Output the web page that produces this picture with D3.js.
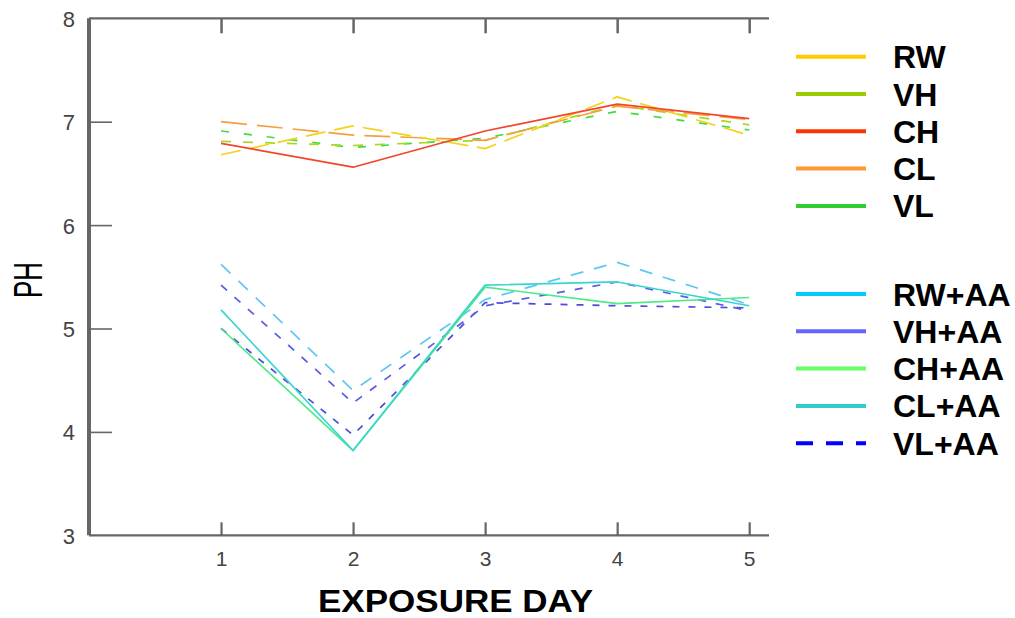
<!DOCTYPE html>
<html>
<head>
<meta charset="utf-8">
<script src="https://cdn.jsdelivr.net/npm/d3@7"></script>
<style>
  html, body { margin: 0; padding: 0; background: #fff; }
  svg { display: block; font-family: "Liberation Sans", Arial, sans-serif; }
</style>
</head>
<body>
<svg id="chart" width="1015" height="618"></svg>
<script>
// Exposure days and axis ticks
const days = [1, 2, 3, 4, 5];
const yTicks = [3, 4, 5, 6, 7, 8];

// pH readings per treatment
const seriesNames = ["RW", "VH", "CH", "CL", "VL", "RW+AA", "VH+AA", "CH+AA", "CL+AA", "VL+AA"];
const rwValues   = [6.68, 6.96, 6.74, 7.24, 6.87];
const vhValues   = [6.81, 6.77, 6.82, 7.16, 6.97];
const chValues   = [6.79, 6.56, 6.91, 7.17, 7.03];
const clValues   = [7.00, 6.87, 6.82, 7.15, 7.02];
const vlValues   = [6.91, 6.75, 6.84, 7.10, 6.92];
const rwAaValues = [5.62, 4.40, 5.28, 5.64, 5.23];
const vhAaValues = [5.42, 4.28, 5.22, 5.45, 5.17];
const chAaValues = [5.00, 3.82, 5.40, 5.24, 5.30];
const clAaValues = [5.18, 3.82, 5.42, 5.45, 5.22];
const vlAaValues = [5.00, 3.97, 5.25, 5.22, 5.20];

const valuesByName = {
  "RW": rwValues, "VH": vhValues, "CH": chValues, "CL": clValues, "VL": vlValues,
  "RW+AA": rwAaValues, "VH+AA": vhAaValues, "CH+AA": chAaValues, "CL+AA": clAaValues, "VL+AA": vlAaValues
};

// Line appearance: legend colour, plotted colour and dash pattern
const styles = {
  "RW":    { legend: "#FFCC00", line: "#F2D21A", dash: "20,9" },
  "VH":    { legend: "#99CC00", line: "#A8D820", dash: "10,12" },
  "CH":    { legend: "#FF3300", line: "#F2462A", dash: null },
  "CL":    { legend: "#FF9933", line: "#F5A040", dash: "26,10" },
  "VL":    { legend: "#33CC33", line: "#3DDD3D", dash: "8,15" },
  "RW+AA": { legend: "#00CCFF", line: "#5CC8F2", dash: "13,11" },
  "VH+AA": { legend: "#6666FF", line: "#5A5AE6", dash: "8,10" },
  "CH+AA": { legend: "#66FF66", line: "#4EEA86", dash: null },
  "CL+AA": { legend: "#33CCCC", line: "#3CD4D0", dash: null },
  "VL+AA": { legend: "#0000FF", line: "#4A4ADD", dash: "7,9" }
};
const drawOrder = ["VL", "VH", "CL", "RW", "CH", "RW+AA", "VL+AA", "VH+AA", "CH+AA", "CL+AA"];

const svg = d3.select("#chart");
const plotLeft = 89, plotRight = 769, plotTop = 18.3, plotBottom = 535.3;

const x = d3.scaleLinear().domain([0, 5.15]).range([plotLeft, plotRight]);
const y = d3.scaleLinear().domain([3, 8]).range([plotBottom, plotTop]);

const axisColor = "#666";
const labelColor = "#444";

// Top border with downward ticks
const topAxis = svg.append("g").attr("transform", `translate(0,${plotTop})`)
  .call(d3.axisBottom(x).tickValues(days).tickSize(15).tickFormat(""));
topAxis.select(".domain").attr("stroke", axisColor).attr("stroke-width", 2.2)
  .attr("d", `M${plotLeft},0H${plotRight}`);
topAxis.selectAll(".tick line").attr("stroke", axisColor).attr("stroke-width", 2.5);

// Bottom axis with upward ticks and labels below
const bottomAxis = svg.append("g").attr("transform", `translate(0,${plotBottom})`)
  .call(d3.axisTop(x).tickValues(days).tickSize(13).tickFormat(d3.format("d")));
bottomAxis.select(".domain").attr("stroke", axisColor).attr("stroke-width", 2.2)
  .attr("d", `M${plotLeft},0H${plotRight}`);
bottomAxis.selectAll(".tick line").attr("stroke", axisColor).attr("stroke-width", 2.2);
bottomAxis.selectAll(".tick text")
  .attr("y", 31).attr("dy", null)
  .attr("fill", labelColor).attr("font-size", 21)
  .attr("font-family", "Liberation Sans, Arial, sans-serif");

// Left axis with ticks pointing into the plot
const leftAxis = svg.append("g").attr("transform", `translate(${plotLeft},0)`)
  .call(d3.axisRight(y).tickValues(yTicks).tickSize(23).tickFormat(d3.format("d")));
leftAxis.select(".domain").attr("stroke", axisColor).attr("stroke-width", 4)
  .attr("d", `M0,${plotTop}V${plotBottom}`);
leftAxis.selectAll(".tick line").attr("stroke", axisColor).attr("stroke-width", 1.6)
  .filter(d => d === 3 || d === 8).remove();
leftAxis.selectAll(".tick text")
  .attr("x", -14).attr("dy", "0.36em").attr("text-anchor", "end")
  .attr("fill", labelColor).attr("font-size", 22)
  .attr("font-family", "Liberation Sans, Arial, sans-serif");

// Series lines
const line = d3.line()
  .x((d, i) => x(days[i]))
  .y(d => y(d));

svg.append("g").attr("class", "series")
  .selectAll("path")
  .data(drawOrder)
  .join("path")
  .attr("d", name => line(valuesByName[name]))
  .attr("fill", "none")
  .attr("stroke", name => styles[name].line)
  .attr("stroke-width", 1.7)
  .attr("stroke-dasharray", name => styles[name].dash)
  .attr("stroke-linejoin", "round");

// Legend: two groups of five entries
const legendY = seriesNames.map((name, i) => i < 5 ? 56.7 + i * 37.3 : 294 + (i - 5) * 37.3);
const legend = svg.append("g").attr("class", "legend");
const items = legend.selectAll("g")
  .data(seriesNames)
  .join("g")
  .attr("transform", (d, i) => `translate(0,${legendY[i]})`);
items.append("line")
  .attr("x1", 796).attr("x2", 866)
  .attr("stroke", d => styles[d].legend)
  .attr("stroke-width", 4)
  .attr("stroke-dasharray", d => d === "VL+AA" ? "17,13" : null);
items.append("text")
  .attr("x", 893).attr("y", 11.5)
  .attr("font-size", 32).attr("font-weight", "bold").attr("fill", "#000")
  .text(d => d);

// Axis titles
svg.append("text")
  .attr("x", 455.5).attr("y", 612)
  .attr("text-anchor", "middle")
  .attr("font-size", 32).attr("font-weight", "bold")
  .attr("textLength", 275).attr("lengthAdjust", "spacingAndGlyphs")
  .text("EXPOSURE DAY");

svg.append("text")
  .attr("transform", "translate(42,280) rotate(-90)")
  .attr("text-anchor", "middle")
  .attr("font-size", 40)
  .attr("textLength", 36).attr("lengthAdjust", "spacingAndGlyphs")
  .text("PH");
</script>
</body>
</html>
